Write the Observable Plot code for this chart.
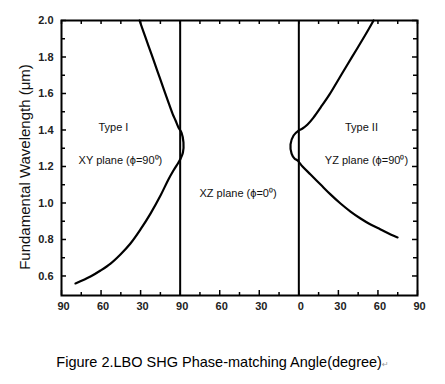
<!DOCTYPE html>
<html><head><meta charset="utf-8">
<script src="https://cdn.jsdelivr.net/npm/d3@7"></script>
<script src="https://cdn.jsdelivr.net/npm/@observablehq/plot@0.6"></script>
<style>
body{margin:0;background:#fff;font-family:"Liberation Sans",Arial,sans-serif}
#chart{position:relative;width:445px;height:384px;overflow:hidden}
#cap{position:absolute;left:0;width:445px;text-align:center;top:355px;font-size:14.5px;line-height:14.5px;color:#000;white-space:nowrap}
#cap span{font-family:"DejaVu Sans",sans-serif;font-size:8px;color:#999}
</style></head><body><div id="chart"></div>
<script>
// Type I, XY plane: phase-matching angle (deg, left panel) and fundamental wavelength (µm)
const xyAngle  = [30.8, 26.3, 21.7, 17.2, 12.6, 8.9, 5.8, 3.5, 1.3, -1.0, -2.5, -2.1, -0.4, 1.3, 5.1, 8.9, 14.9, 22.5, 30.1, 37.7, 45.3, 52.8, 60.4, 68.0, 79.4];
const xyLambda = [2.0, 1.907, 1.814, 1.721, 1.627, 1.551, 1.490, 1.452, 1.414, 1.386, 1.332, 1.277, 1.244, 1.222, 1.178, 1.129, 1.041, 0.942, 0.855, 0.778, 0.718, 0.668, 0.630, 0.597, 0.559];
// Type II, YZ plane: angle (deg, right panel) and wavelength (µm)
const yzAngle  = [56.7, 50.6, 43.8, 36.9, 30.1, 23.3, 16.5, 11.1, 6.6, 2.8, -0.2, -4.0, -6.3, -5.5, -3.3, -1.0, 2.8, 8.9, 16.5, 24.0, 31.6, 39.2, 46.8, 54.4, 62.0, 69.6, 74.9];
const yzLambda = [2.0, 1.923, 1.841, 1.759, 1.677, 1.595, 1.523, 1.468, 1.430, 1.408, 1.397, 1.370, 1.321, 1.271, 1.244, 1.233, 1.200, 1.156, 1.101, 1.047, 0.997, 0.953, 0.915, 0.882, 0.855, 0.827, 0.811];
// panel boundaries on the composite angle axis (0..270)
const planeBoundaries = [90, 180];
const xTickLabels = ["90", "60", "30", "90", "60", "30", "0", "30", "60", "90"];
const yTickLabels = ["0.6", "0.8", "1.0", "1.2", "1.4", "1.6", "1.8", "2.0"];
// region annotations: composite axis position, wavelength, text
const noteText   = ["Type I", "XY plane (\u03d5=90\u2070)", "XZ plane (\u03d5=0\u2070)", "Type II", "YZ plane (\u03d5=90\u2070)"];
const notePos    = [39.4, 44.7, 133.9, 227.5, 231.3];
const noteLambda = [1.414, 1.233, 1.052, 1.414, 1.233];
const yTitle = "Fundamental Wavelength (\u03bcm)";
const captionText = "Figure 2.LBO SHG Phase-matching Angle(degree)";

const W = 445, H = 320, mL = 61, mR = 28, mT = 20, mB = 25;
const frameW = W - mL - mR, frameH = H - mT - mB;
const pLeft = a => 90 - a, pRight = a => 180 + a;
const xyData = xyAngle.map((a, i) => ({x: pLeft(a), y: xyLambda[i]}));
const yzData = yzAngle.map((a, i) => ({x: pRight(a), y: yzLambda[i]}));
const notes = noteText.map((t, i) => ({t, x: notePos[i], y: noteLambda[i]}));
const xMajor = d3.range(0, 271, 30), xMinor = d3.range(15, 271, 30), xAll = d3.range(0, 271, 15);
const yMajor = yTickLabels.map(Number), yMinor = d3.range(0.7, 1.95, 0.2);
const font = "'Liberation Sans', Arial, sans-serif";

const plot = Plot.plot({
  width: W, height: H, marginLeft: mL, marginRight: mR, marginTop: mT, marginBottom: mB,
  x: {domain: [0, 270], axis: null},
  y: {domain: [0.493, 2.0], axis: null},
  style: {fontFamily: font, background: "white", color: "#000"},
  marks: [
    // inward ticks
    Plot.tickX(xMajor, {x: d => d, insetTop: frameH - 5, strokeWidth: 1.5}),
    Plot.tickX(xMinor, {x: d => d, insetTop: frameH - 3, strokeWidth: 1.5}),
    Plot.tickX(xAll, {x: d => d, insetBottom: frameH - 4, strokeWidth: 1.5}),
    Plot.tickY(yMajor, {y: d => d, insetRight: frameW - 5, strokeWidth: 1.5}),
    Plot.tickY(yMinor, {y: d => d, insetRight: frameW - 4, strokeWidth: 1.5}),
    Plot.tickY(yMajor, {y: d => d, insetLeft: frameW - 5, strokeWidth: 1.5}),
    Plot.tickY(yMinor, {y: d => d, insetLeft: frameW - 4, strokeWidth: 1.5}),
    Plot.frame({stroke: "#000", strokeWidth: 2}),
    Plot.ruleX(planeBoundaries, {x: d => d, stroke: "#000", strokeWidth: 2}),
    Plot.line(xyData, {x: "x", y: "y", curve: "catmull-rom", stroke: "#000", strokeWidth: 2.2}),
    Plot.line(yzData, {x: "x", y: "y", curve: "catmull-rom", stroke: "#000", strokeWidth: 2.2}),
    // tick labels
    Plot.text(xMajor, {x: d => d, frameAnchor: "bottom", dy: 7, dx: 2, lineAnchor: "top",
      text: d => xTickLabels[Math.round(d / 30)], fontSize: 11, fontWeight: "bold", fill: "#222"}),
    Plot.text(yMajor, {y: d => d, frameAnchor: "left", dx: -8, textAnchor: "end",
      text: (d, i) => yTickLabels[i], fontSize: 11, fontWeight: "bold", fill: "#222"}),
    // axis title
    Plot.text([yTitle], {frameAnchor: "left", textAnchor: "middle", dx: -36, dy: 9, rotate: -90,
      text: d => d, fontSize: 15, fill: "#111"}),
    // annotations
    Plot.text(notes, {x: "x", y: "y", text: "t", fontSize: 11, fill: "#111"})
  ]
});
const chart = document.getElementById("chart");
chart.appendChild(plot);
const cap = document.createElement("div");
cap.id = "cap";
cap.textContent = captionText;
const mark = document.createElement("span");
mark.textContent = "\u21b5";
cap.appendChild(mark);
chart.appendChild(cap);
</script>
</body></html>
